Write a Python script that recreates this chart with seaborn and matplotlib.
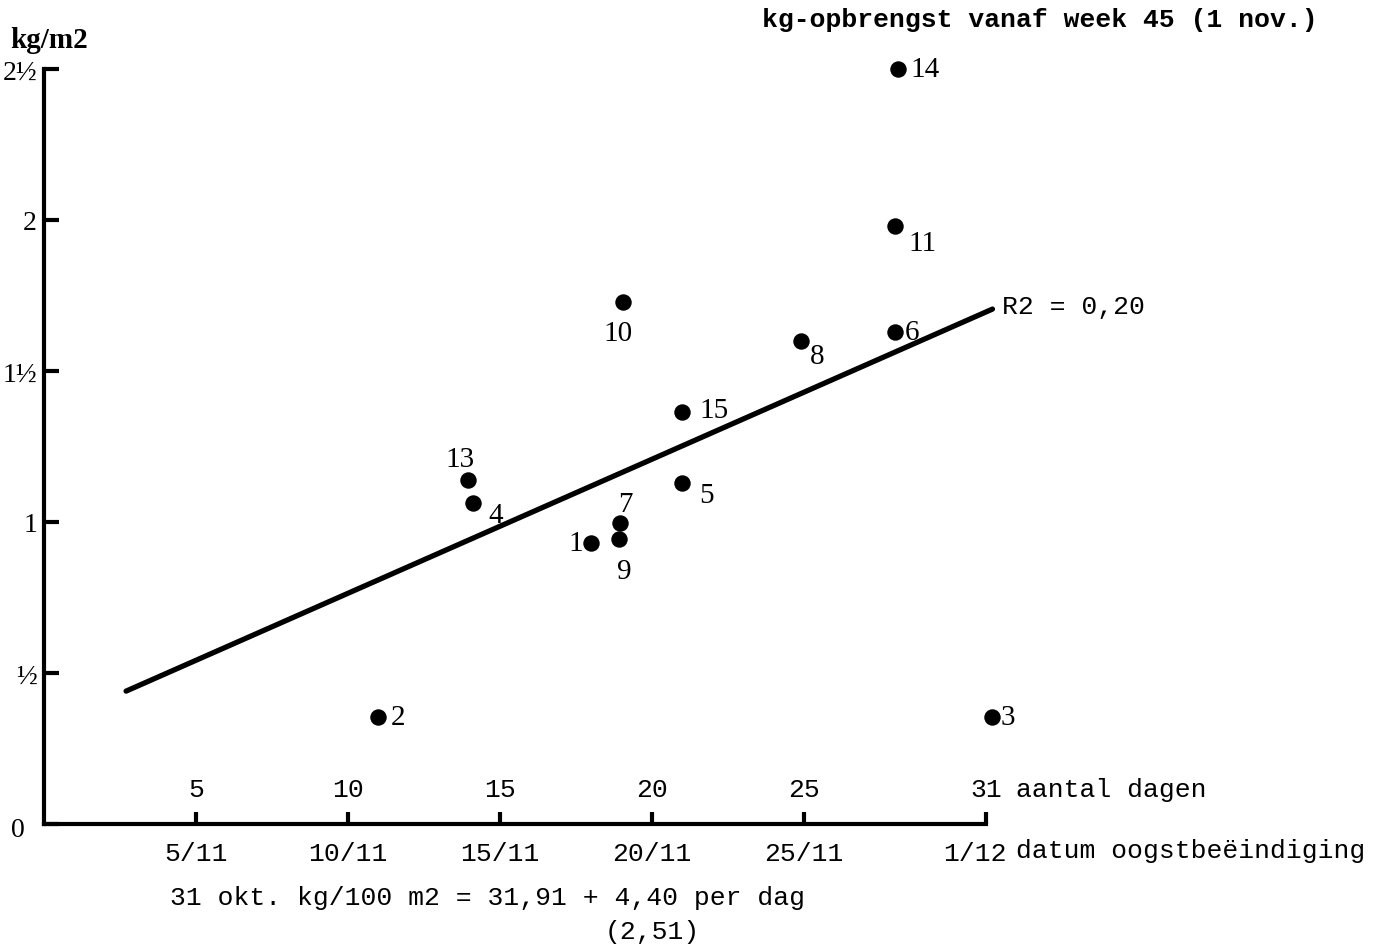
import matplotlib
matplotlib.use('Agg')
import matplotlib.pyplot as plt
from matplotlib.transforms import ScaledTranslation
import seaborn as sns
import pandas as pd

# data
plot_nr = [14, 11, 10, 6, 8, 15, 13, 5, 4, 7, 9, 1, 2, 3]
dagen = [28.1, 28.0, 19.05, 28.0, 24.9, 21.0, 13.95, 21.0, 14.1, 18.95, 18.9, 18.0, 11.0, 31.2]
kg_m2 = [2.50, 1.98, 1.73, 1.63, 1.60, 1.364, 1.139, 1.129, 1.063, 0.997, 0.944, 0.930, 0.354, 0.354]

fit_dagen = [2.7, 31.2]
fit_kg = [0.44, 1.705]

dag_ticks = [5, 10, 15, 20, 25, 31]
datum_labels = ['5/11', '10/11', '15/11', '20/11', '25/11', '1/12']
kg_ticks = [0, 0.5, 1, 1.5, 2, 2.5]
kg_labels = ['0', '½', '1', '1½', '2', '2½']

# label offsets in pixels (dx, dy, ha)
label_pos = {
    14: (12, 0, 'left'), 11: (13, -17, 'left'), 10: (-5, -31, 'center'),
    6: (10, 0, 'left'), 8: (9, -15, 'left'), 15: (17, 2, 'left'),
    13: (-8, 21, 'center'), 5: (17, -12, 'left'), 4: (16, -12, 'left'),
    7: (5, 19, 'center'), 9: (6, -32, 'center'), 1: (-8, 0, 'right'),
    2: (12, 0, 'left'), 3: (8, 0, 'left'),
}

df = pd.DataFrame({'nr': plot_nr, 'dag': dagen, 'kg': kg_m2})

sns.set_style('ticks', {'axes.edgecolor': 'black', 'text.color': 'black',
                        'xtick.color': 'black', 'ytick.color': 'black'})
plt.rcParams['font.family'] = ['Liberation Serif', 'DejaVu Serif']
mono = 'Liberation Mono'
serif = 'Liberation Serif'

fig = plt.figure(figsize=(13.84, 9.45), dpi=100)
W, H = 1384, 945
ax = fig.add_axes([44 / W, 120 / H, 34 * 30.4 / W, 2.6 * 302 / H])
ax.set_xlim(0, 34)
ax.set_ylim(0, 2.6)

sns.scatterplot(data=df, x='dag', y='kg', color='black', s=140, linewidth=0,
                ax=ax, legend=False, clip_on=False, zorder=3)
sns.lineplot(x=fit_dagen, y=fit_kg, color='black', linewidth=3.8, ax=ax)

for nr, d, k in zip(plot_nr, dagen, kg_m2):
    dx, dy, ha = label_pos[nr]
    ax.annotate(str(nr), (d, k), xytext=(dx, dy), textcoords='offset pixels',
                ha=ha, va='center', fontsize=21, family=serif)

ax.annotate('R2 = 0,20', (fit_dagen[-1], fit_kg[-1]), xytext=(10, 3),
            textcoords='offset pixels', ha='left', va='center', fontsize=19, family=mono)

sns.despine(ax=ax)
ax.spines['left'].set_bounds(0, 2.5)
ax.spines['bottom'].set_bounds(0, 31)
for s in ['left', 'bottom']:
    ax.spines[s].set_linewidth(3)
    ax.spines[s].set_color('black')

ax.set_xticks(dag_ticks)
ax.set_xticklabels(datum_labels, family=mono, fontsize=19)
ax.set_yticks(kg_ticks)
ax.set_yticklabels(kg_labels, family=serif, fontsize=20)
ax.tick_params(axis='x', direction='in', length=9, width=3, pad=12, colors='black')
ax.tick_params(axis='y', direction='in', length=11, width=3, pad=5, colors='black')
ax.set_xlabel('')
ax.set_ylabel('')

# the typed "1/12" sits a little left of its tick
last = ax.get_xticklabels()[-1]
last.set_transform(last.get_transform() + ScaledTranslation(-0.12, 0, fig.dpi_scale_trans))
zero = ax.get_yticklabels()[0]
zero.set_transform(zero.get_transform() + ScaledTranslation(-0.12, -0.03, fig.dpi_scale_trans))

for d in dag_ticks:
    ax.annotate(str(d), (d, 0), xytext=(0, 35), textcoords='offset pixels',
                ha='center', va='center', fontsize=19, family=mono)
ax.annotate('aantal dagen', (31, 0), xytext=(30, 35), textcoords='offset pixels',
            ha='left', va='center', fontsize=19, family=mono)
ax.annotate('datum oogstbeëindiging', (31, 0), xytext=(30, -26), textcoords='offset pixels',
            ha='left', va='center', fontsize=19, family=mono)

fig.text(10 / W, 1 - 40 / H, 'kg/m2', ha='left', va='center', fontsize=21,
         family=serif, weight='bold')
fig.text(762 / W, 1 - 20 / H, 'kg-opbrengst vanaf week 45 (1 nov.)', ha='left',
         va='center', fontsize=19, family=mono, weight='bold')
fig.text(170 / W, 1 - 898 / H, '31 okt. kg/100 m2 = 31,91 + 4,40 per dag', ha='left',
         va='center', fontsize=19, family=mono)
fig.text(605 / W, 1 - 932 / H, '(2,51)', ha='left', va='center', fontsize=19, family=mono)

fig.savefig('out.png', dpi=100)
plt.close(fig)
